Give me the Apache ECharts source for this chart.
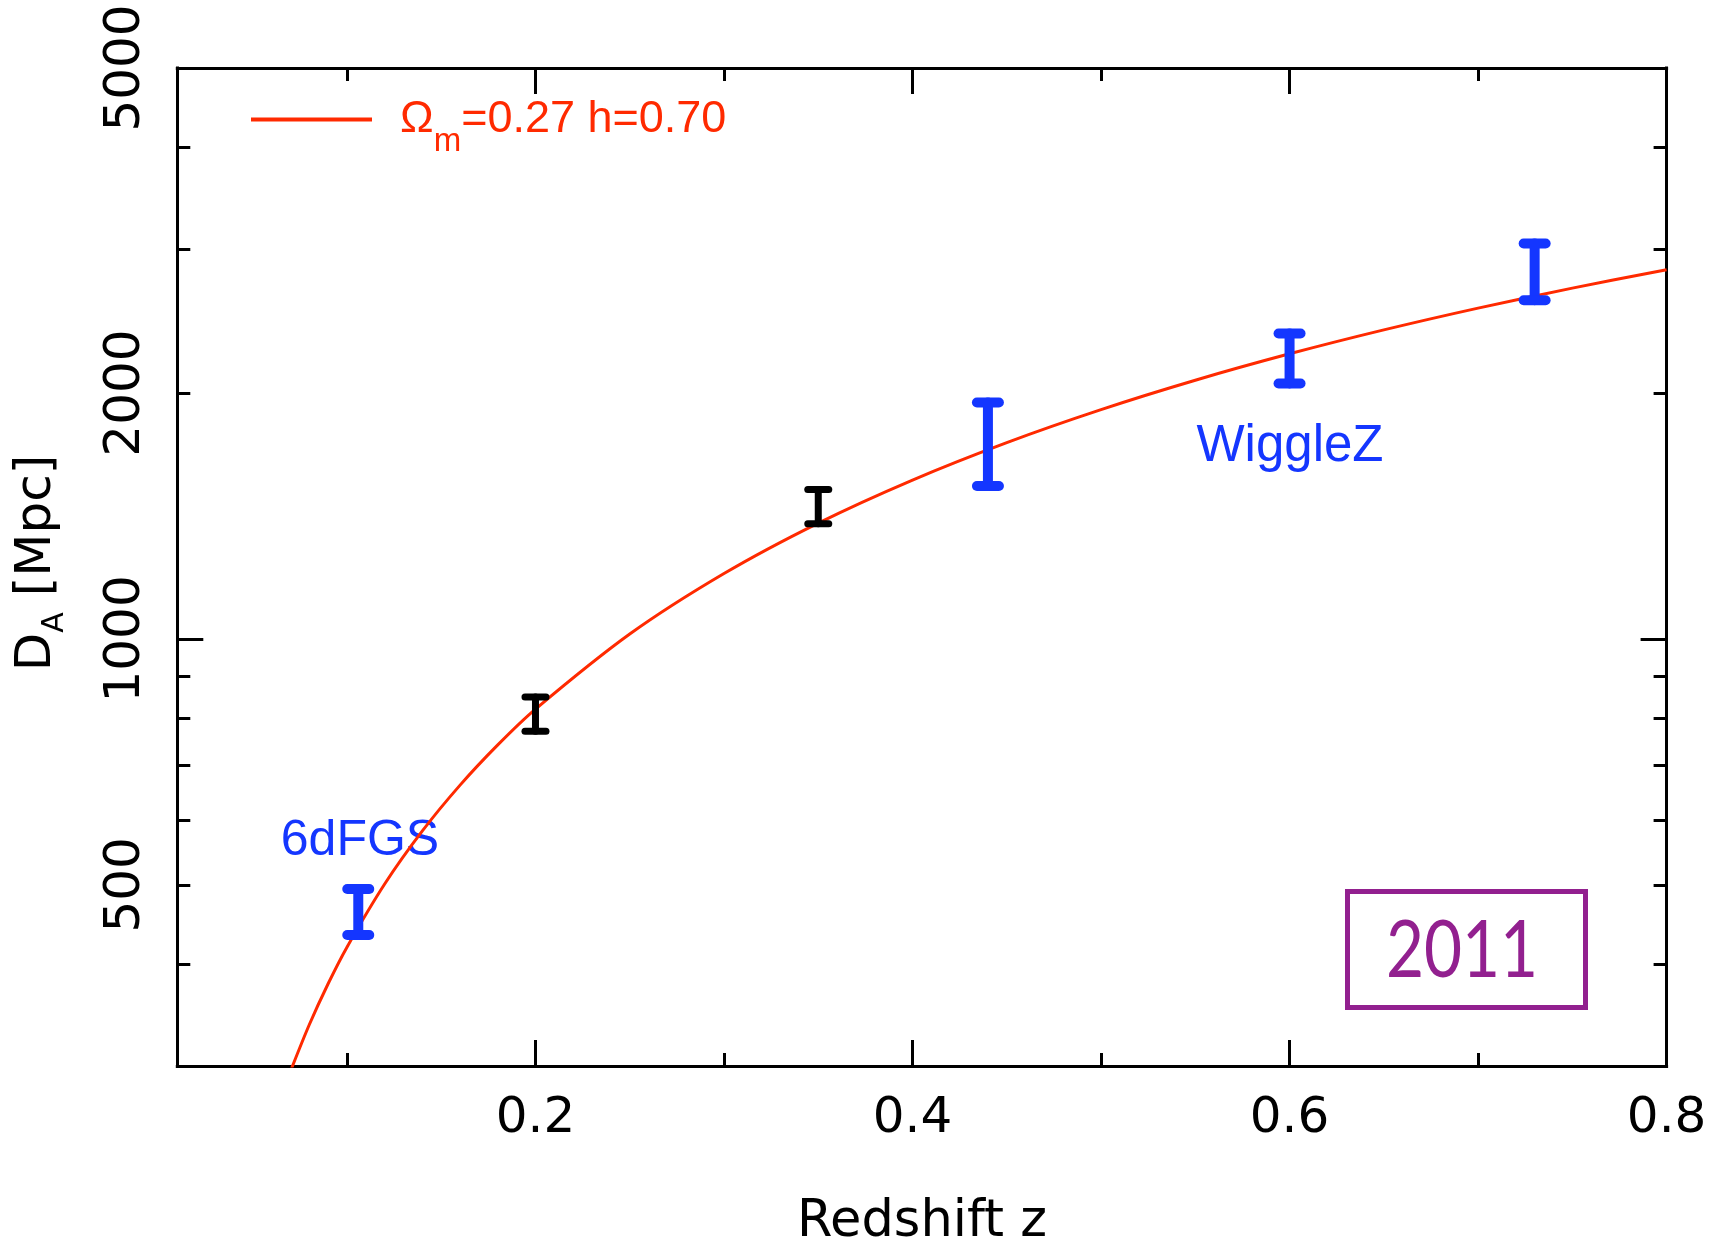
<!DOCTYPE html>
<html>
<head>
<meta charset="utf-8">
<script src="https://cdn.jsdelivr.net/npm/echarts@6/dist/echarts.min.js"></script>
<style>
  html, body { margin: 0; padding: 0; background: #fff; }
  #chart { width: 1717px; height: 1248px; }
</style>
</head>
<body>
<div id="chart"></div>
<script>
// Model curve: flat LCDM distance, Omega_m = 0.27, h = 0.70 (z, Mpc)
const curveZ = [0.07, 0.08, 0.09, 0.10, 0.12, 0.14, 0.16, 0.18, 0.20, 0.25, 0.30,
                0.35, 0.40, 0.45, 0.50, 0.55, 0.60, 0.65, 0.70, 0.75, 0.80];
const curveD = [295.5, 337.0, 378.3, 419.4, 501.1, 582.0, 662.2, 741.7, 820.4, 1013.7, 1202.3,
                1386.1, 1565.0, 1739.2, 1908.7, 2073.5, 2233.8, 2389.7, 2541.1, 2688.3, 2831.4];

// 6dFGS and WiggleZ measurements: redshift, lower / upper end of the error bar (Mpc)
const blueZ  = [0.106, 0.44, 0.60, 0.73];
const blueLo = [434, 1539, 2054, 2598];
const blueHi = [494, 1947, 2365, 3048];

// SDSS measurements
const blackZ  = [0.20, 0.35];
const blackLo = [771, 1384];
const blackHi = [849, 1524];

// Axis ticks and labels
const xMajorTicks = [0.2, 0.4, 0.6, 0.8];
const xMinorTicks = [0.1, 0.3, 0.5, 0.7];
const yLabelValues = [500, 1000, 2000, 5000];
const yMajorTicks = [1000];
const yMinorTicks = [400, 500, 600, 700, 800, 900, 2000, 3000, 4000];

const X_MIN = 0.01, X_MAX = 0.8;
const Y_MIN = 300, Y_MAX = 5000;

const RED = '#ff2a00';
const BLUE = '#1436ff';
const PURPLE = '#92208f';
const TICK_FONT = 'DejaVu Sans';
const NOTE_FONT = 'Liberation Sans';
const curveName = 'Ωm=0.27 h=0.70';

const lg = Math.log10;

function xAxisDef(position, ticks, tickLen, primary) {
  const labelled = primary && position === 'bottom';
  return {
    type: 'value', position, min: X_MIN, max: X_MAX,
    axisLine: { show: primary, onZero: false, lineStyle: { color: '#000', width: 3, cap: 'square' } },
    axisTick: { show: true, inside: true, length: tickLen, customValues: ticks,
                lineStyle: { color: '#000', width: 3 } },
    axisLabel: { show: labelled, customValues: xMajorTicks, formatter: v => v.toFixed(1),
                 fontFamily: TICK_FONT, fontSize: 50, color: '#000', margin: 28 },
    splitLine: { show: false },
    name: labelled ? 'Redshift z' : '',
    nameLocation: 'middle', nameGap: 131,
    nameTextStyle: { fontFamily: TICK_FONT, fontSize: 51, color: '#000' }
  };
}

function yAxisDef(position, ticks, tickLen, primary) {
  const labelled = primary && position === 'left';
  return {
    type: 'value', position, min: lg(Y_MIN), max: lg(Y_MAX),
    axisLine: { show: primary, onZero: false, lineStyle: { color: '#000', width: 3, cap: 'square' } },
    axisTick: { show: true, inside: true, length: tickLen, customValues: ticks.map(lg),
                lineStyle: { color: '#000', width: 3 } },
    axisLabel: { show: labelled, customValues: yLabelValues.map(lg), rotate: 90,
                 formatter: v => String(Math.round(Math.pow(10, v))),
                 fontFamily: TICK_FONT, fontSize: 50, color: '#000', margin: 26 },
    splitLine: { show: false }
  };
}

function errorBars(name, zs, lo, hi, color, width, capHalf) {
  return {
    type: 'custom', name, xAxisIndex: 0, yAxisIndex: 0, z: 5, silent: true,
    data: zs.map((z, i) => [z, lg(lo[i]), lg(hi[i])]),
    encode: { x: 0, y: [1, 2] },
    renderItem: (params, api) => {
      const x = api.value(0);
      const pLo = api.coord([x, api.value(1)]);
      const pHi = api.coord([x, api.value(2)]);
      const style = { stroke: color, lineWidth: width, lineCap: 'round' };
      return {
        type: 'group',
        children: [
          { type: 'line', shape: { x1: pLo[0], y1: pLo[1], x2: pHi[0], y2: pHi[1] }, style },
          { type: 'line', shape: { x1: pLo[0] - capHalf, y1: pLo[1], x2: pLo[0] + capHalf, y2: pLo[1] }, style },
          { type: 'line', shape: { x1: pHi[0] - capHalf, y1: pHi[1], x2: pHi[0] + capHalf, y2: pHi[1] }, style }
        ]
      };
    }
  };
}

const chart = echarts.init(document.getElementById('chart'), null, { renderer: 'canvas' });

chart.setOption({
  animation: false,
  backgroundColor: '#fff',
  grid: { left: 177.3, right: 50.4, top: 68, bottom: 182, containLabel: false, outerBoundsMode: 'none' },
  xAxis: [
    xAxisDef('bottom', xMajorTicks, 26, true),
    xAxisDef('bottom', xMinorTicks, 13, false),
    xAxisDef('top', xMajorTicks, 26, true),
    xAxisDef('top', xMinorTicks, 13, false)
  ],
  yAxis: [
    yAxisDef('left', yMajorTicks, 26, true),
    yAxisDef('left', yMinorTicks, 13, false),
    yAxisDef('right', yMajorTicks, 26, true),
    yAxisDef('right', yMinorTicks, 13, false)
  ],
  legend: {
    data: [curveName], left: 251, top: 97, padding: 0,
    icon: 'rect', itemWidth: 121, itemHeight: 4, selectedMode: false,
    formatter: () => '{o|Ω}{m|m}{t|=0.27 h=0.70}',
    textStyle: {
      color: RED, fontFamily: NOTE_FONT, fontSize: 45,
      rich: {
        o: { color: RED, fontFamily: NOTE_FONT, fontSize: 45, padding: [0, 0, 0, 23] },
        m: { color: RED, fontFamily: NOTE_FONT, fontSize: 33, padding: [44, 0, 0, 0] },
        t: { color: RED, fontFamily: NOTE_FONT, fontSize: 45 }
      }
    }
  },
  series: [
    {
      type: 'line', name: curveName, xAxisIndex: 0, yAxisIndex: 0,
      data: curveZ.map((z, i) => [z, lg(curveD[i])]),
      symbol: 'none', smooth: 0.3, clip: true, z: 3,
      itemStyle: { color: RED },
      lineStyle: { color: RED, width: 3 }
    },
    errorBars('SDSS', blackZ, blackLo, blackHi, '#000', 7, 10.5),
    errorBars('6dFGS + WiggleZ', blueZ, blueLo, blueHi, BLUE, 10, 11)
  ],
  graphic: [
    { type: 'text', x: 360, y: 841, silent: true,
      style: { text: '6dFGS', fill: BLUE, fontFamily: NOTE_FONT, fontSize: 50, align: 'center', verticalAlign: 'middle' } },
    { type: 'text', x: 1290, y: 447, silent: true,
      style: { text: 'WiggleZ', fill: BLUE, fontFamily: NOTE_FONT, fontSize: 51, align: 'center', verticalAlign: 'middle' } },
    { type: 'rect', silent: true,
      shape: { x: 1347.5, y: 891.5, width: 238, height: 116 },
      style: { fill: 'none', stroke: PURPLE, lineWidth: 5 } },
    { type: 'text', x: 1462, y: 951, scaleX: 0.82, silent: true,
      style: { text: '2011', fill: PURPLE, font: '80px Lato, sans-serif',
               align: 'center', verticalAlign: 'middle' } },
    { type: 'text', x: 37, y: 563, rotation: Math.PI / 2, silent: true,
      style: {
        text: '{d|D}{s|A}{d| [Mpc]}', align: 'center', verticalAlign: 'middle',
        rich: {
          d: { fill: '#000', fontFamily: TICK_FONT, fontSize: 50 },
          s: { fill: '#000', fontFamily: TICK_FONT, fontSize: 30, padding: [37, 0, 0, 0] }
        }
      } }
  ]
});
</script>
</body>
</html>
